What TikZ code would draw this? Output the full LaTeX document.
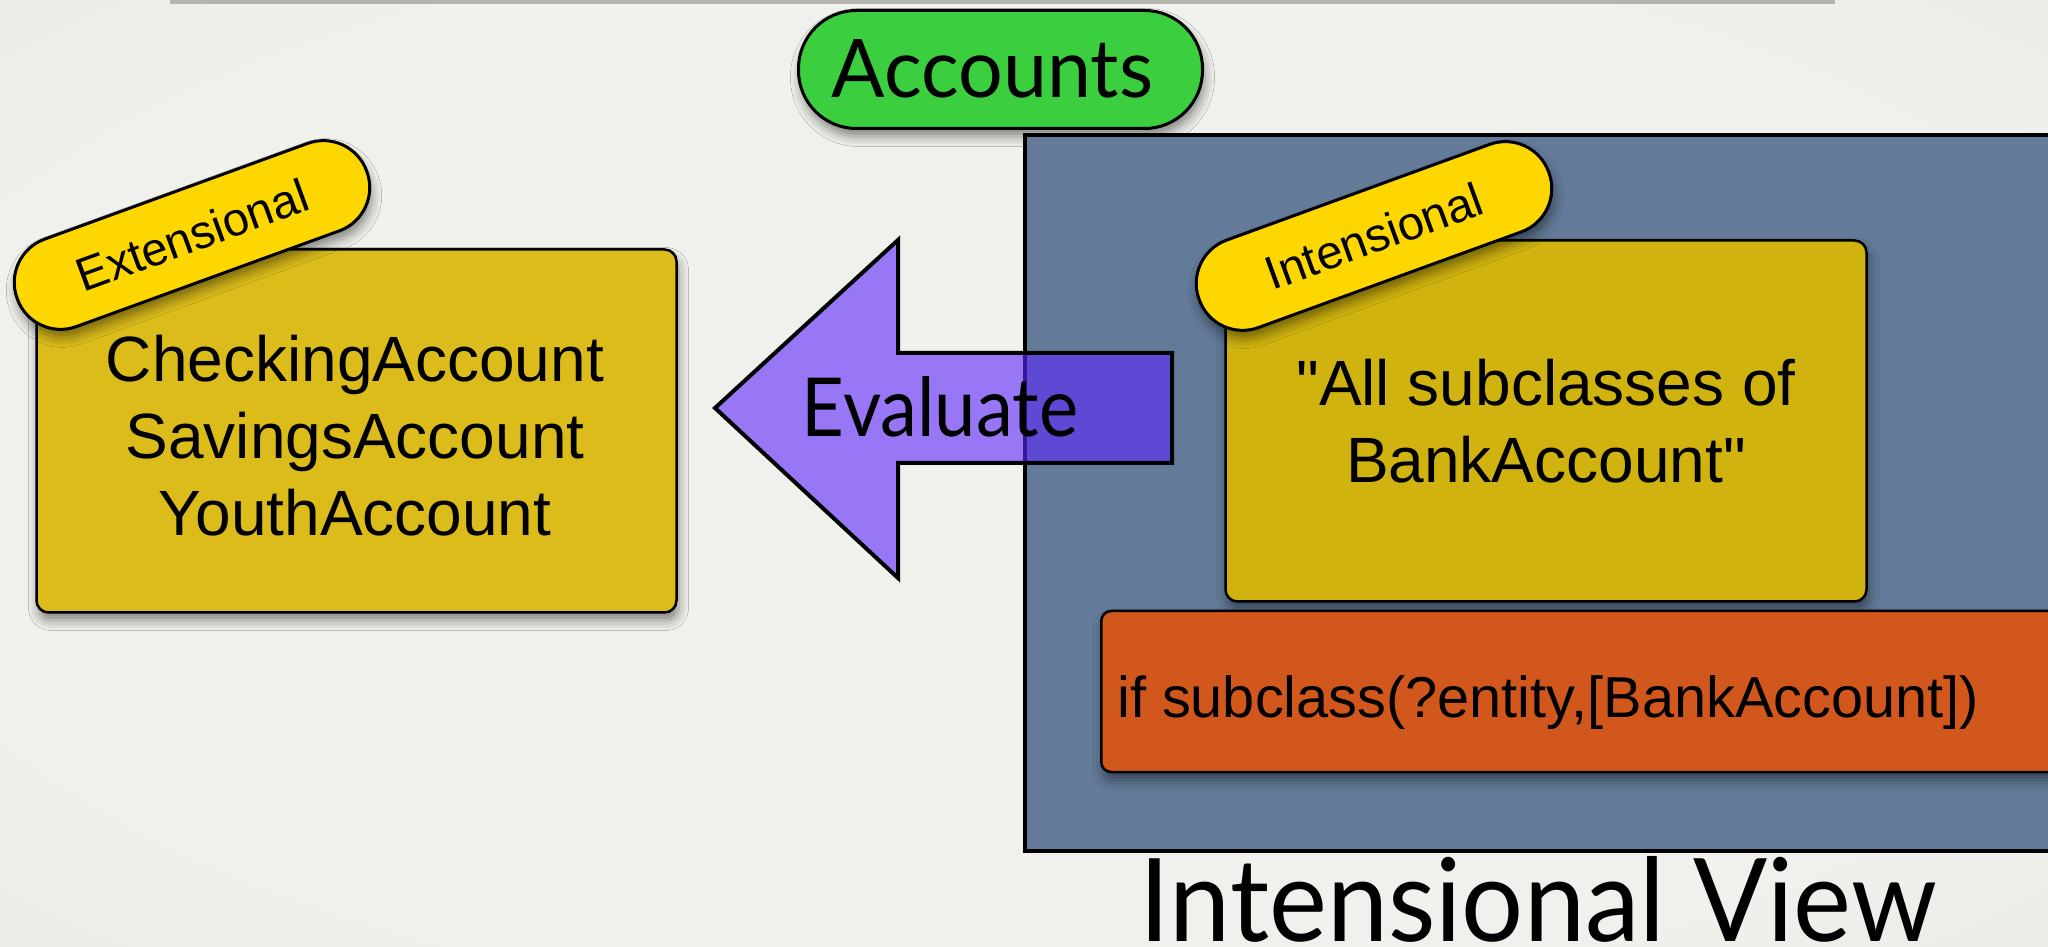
\documentclass[tikz,border=0pt]{standalone}
\usepackage{fontspec}
\setmainfont{Liberation Sans}
\newfontfamily\gillfont{Lato}
\usetikzlibrary{shadows.blur}

\definecolor{bgin}{HTML}{F0F0EC}
\definecolor{bgout}{HTML}{E1E1DC}
\definecolor{barGrey}{HTML}{B4B4AE}
\definecolor{pillGreen}{HTML}{3BCE3F}
\definecolor{boxGold}{HTML}{DBBC1B}
\definecolor{boxGoldDark}{HTML}{D0B30F}
\definecolor{tagYellow}{HTML}{FFD700}
\definecolor{panelBlue}{HTML}{637B99}
\definecolor{ruleOrange}{HTML}{D1571C}
\definecolor{arrowViolet}{RGB}{93,39,251}

% soft light-grey backdrop, a little darker towards the edges
\pgfdeclareradialshading{vignette}{\pgfpoint{0bp}{0bp}}{color(0bp)=(bgin); color(28bp)=(bgin); color(52bp)=(bgout); color(72bp)=(bgout)}

\begin{document}
\begin{tikzpicture}[x=1pt,y=1pt,
  softshadow/.style={blur shadow={shadow xshift=2pt, shadow yshift=-8pt, shadow blur radius=10pt, shadow opacity=45}},
  card/.style={draw=black, line width=2.5pt, rounded corners=12pt, inner sep=0pt, softshadow,
               font=\fontsize{64}{77}\selectfont, align=center},
  tag/.style={draw=black, line width=3pt, fill=tagYellow, rounded corners=46pt,
              minimum width=372pt, minimum height=93pt, rotate=20, inner sep=0pt, softshadow,
              font=\fontsize{47}{56}\selectfont},
  caption/.style={inner sep=0pt, anchor=base, font=\gillfont}
]
\useasboundingbox (0,0) rectangle (2048,946);
\clip (0,0) rectangle (2048,946);

% backdrop and the thin rule along the top
\shade[shading=vignette] (0,0) rectangle (2048,946);
\fill[barGrey] (170,942) rectangle (1835,946);

% title pill
\node[draw=black, line width=3pt, fill=pillGreen, rounded corners=58pt,
      minimum width=404pt, minimum height=118pt, inner sep=0pt, softshadow] (accounts) at (1000.5,876.5) {};
\node[caption] (accountsText) at (992.5,848) {\resizebox{321pt}{58pt}{Accounts}};

% blue panel holding the intensional side (runs off the right edge)
\draw[line width=4.5pt, fill=panelBlue] (2075,811) -- (1025,811) -- (1025,95) -- (2075,95);

% extensional result box
\node[card, fill=boxGold, minimum width=640pt, minimum height=363pt] (extBox) at (356.5,515) {};
\node[inner sep=0pt, font=\fontsize{64}{77}\selectfont, align=center] (extText) at (355,510)
  {CheckingAccount\\SavingsAccount\\YouthAccount};

% intensional definition box
\node[card, fill=boxGoldDark, minimum width=641pt, minimum height=361pt] (intBox) at (1546,525)
  {\textquotedbl All subclasses of\\BankAccount\textquotedbl};

% rule box
\node[card, fill=ruleOrange, rounded corners=10pt, minimum width=990pt, minimum height=161pt, anchor=west] (ruleBox) at (1100,254.5) {};
\node[inner sep=0pt, anchor=base west, font=\fontsize{57.7}{69}\selectfont] (ruleText) at (1117,229)
  {if subclass(?entity,[BankAccount])};

% block arrow: evaluate the intensional definition into the extension
\draw[line width=4pt, line join=miter, fill=arrowViolet, fill opacity=0.6]
  (715,538) -- (898,706) -- (898,593) -- (1172,593) -- (1172,483) -- (898,483) -- (898,368) -- cycle;
\node[caption] (evaluateText) at (940,509) {\resizebox{276pt}{60pt}{Evaluate}};

% slanted tags
\node[tag] (extTag) at (192,711) {Extensional};
\node[tag] (intTag) at (1374,710) {Intensional};

% panel caption
\node[caption] (viewText) at (1538.5,4.3) {\resizebox{797pt}{85pt}{Intensional View}};
\end{tikzpicture}
\end{document}
